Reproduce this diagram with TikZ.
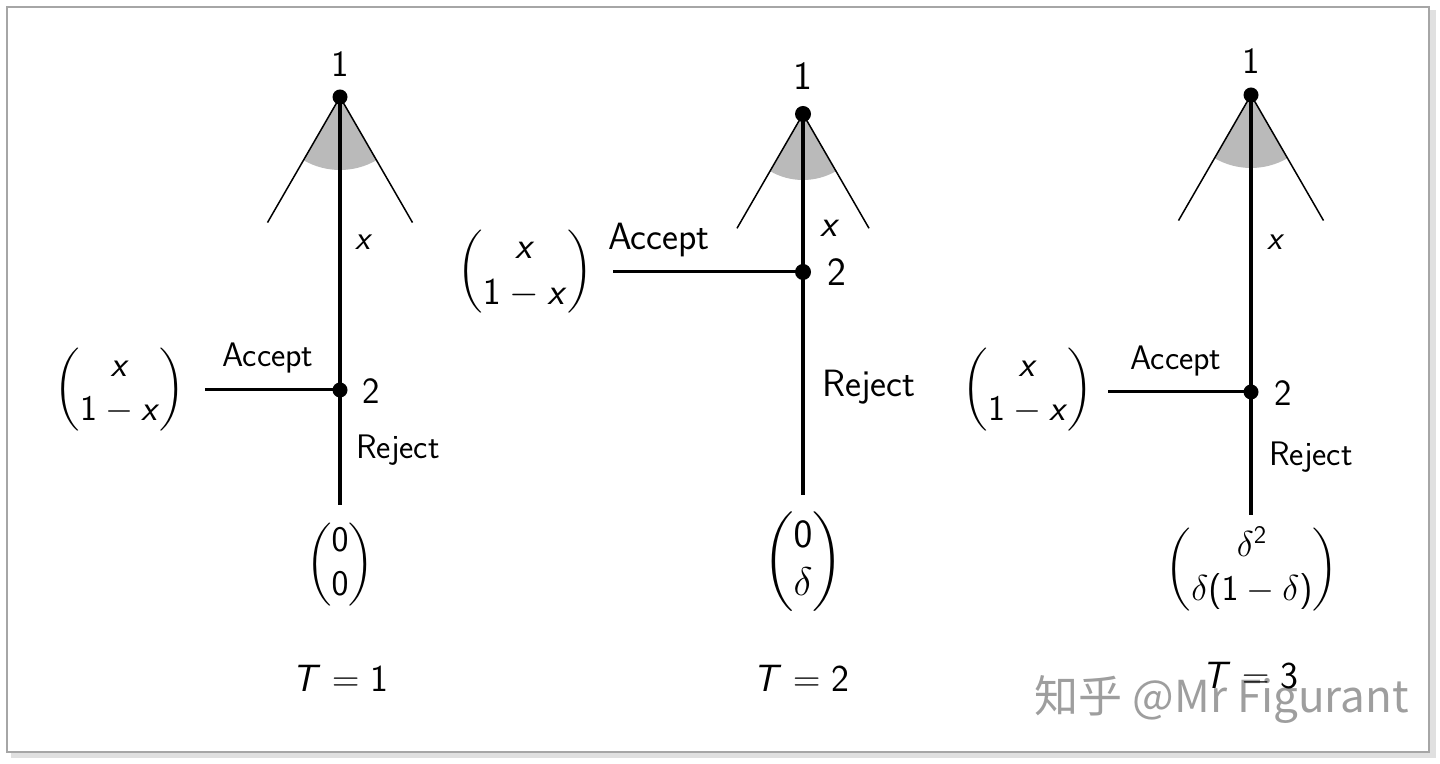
\RequirePackage{fix-cm}
\documentclass[tikz,border=0pt]{standalone}
\usepackage{amsmath}
\usepackage[no-math]{fontspec}
\newfontfamily\cjkfont{Noto Sans CJK SC}
\SetSymbolFont{operators}{normal}{OT1}{cmss}{m}{n}
\DeclareSymbolFont{sfletters}{OT1}{cmss}{m}{sl}
\DeclareMathSymbol{x}{\mathalpha}{sfletters}{`x}
\DeclareMathSymbol{T}{\mathalpha}{sfletters}{`T}
\usetikzlibrary{positioning,backgrounds}

\begin{document}
\begin{tikzpicture}[x=0.5pt, y=0.5pt,
    dot/.style={circle, fill=black, inner sep=0pt, minimum size=7.5pt},
    bigdot/.style={dot, minimum size=8pt},
    lbl/.style={inner sep=0pt, font=\fontsize{17}{21}\selectfont\sffamily},
    vec/.style={inner sep=0pt, font=\fontsize{18}{22}\selectfont\sffamily},
    biglbl/.style={inner sep=0pt, font=\fontsize{19}{23}\selectfont\sffamily},
    numlbl/.style={inner sep=0pt, font=\fontsize{18.5}{22}\selectfont\sffamily},
    bignum/.style={inner sep=0pt, font=\fontsize{20}{24}\selectfont\sffamily},
    stem/.style={line width=1.9pt},
    branch/.style={line width=0.75pt},
    offer/.style={line width=1.5pt},
    wedge/.style={fill=black!27}
]
    \useasboundingbox (0,0) rectangle (1440,764);
    \draw[black!12, line width=3pt] (11,9) -- (1433,9) -- (1433,754);
    \draw[black!35, line width=1pt] (7,12) rectangle (1429,757);

    % T = 1
    \node[dot] (a1) at (340,667) {};
    \node[dot] (a2) at (340,374) {};
    \path (a1.center) ++(240:72.5pt) coordinate (a1l);
    \path (a1.center) ++(300:72.5pt) coordinate (a1r);
    \coordinate (a1end) at (340,259);
    \coordinate (a1acc) at (205,374);
    \begin{scope}[on background layer]
        \fill[wedge] (a1.center) -- ++(240:36.5pt) arc[start angle=240, end angle=300, radius=36.5pt] -- cycle;
    \end{scope}
    \draw[branch] (a1.center) -- (a1l);
    \draw[branch] (a1.center) -- (a1r);
    \draw[stem] (a1.center) -- (a1end);
    \draw[offer] (a1acc) -- (a2.center);
    \node[numlbl] (a1num) at (340,700) {1};
    \node[lbl] (a1x) at (364,522) {$x$};
    \node[numlbl] (a2num) at (371,373) {2};
    \node[lbl] (a1acctxt) at (268,406) {Accept};
    \node[lbl] (a1rej) at (398,314) {Reject};
    \node[vec] (a1vec) at (120,374) {$\begin{pmatrix} x\\ 1-x \end{pmatrix}$};
    \node[vec] (a1pay) at (340,199) {$\begin{pmatrix} 0\\ 0 \end{pmatrix}$};
    \node[biglbl] (t1) at (340,86) {$T=1$};

    % T = 2
    \node[bigdot] (b1) at (803,650) {};
    \node[bigdot] (b2) at (803,492) {};
    \path (b1.center) ++(240:66pt) coordinate (b1l);
    \path (b1.center) ++(300:66pt) coordinate (b1r);
    \coordinate (b1end) at (803,269);
    \coordinate (b1acc) at (613,492);
    \begin{scope}[on background layer]
        \fill[wedge] (b1.center) -- ++(240:33pt) arc[start angle=240, end angle=300, radius=33pt] -- cycle;
    \end{scope}
    \draw[branch] (b1.center) -- (b1l);
    \draw[branch] (b1.center) -- (b1r);
    \draw[stem] (b1.center) -- (b1end);
    \draw[offer] (b1acc) -- (b2.center);
    \node[bignum] (b1num) at (803,688) {1};
    \node[biglbl] (b1x) at (830,536) {$x$};
    \node[bignum] (b2num) at (837,492) {2};
    \node[biglbl] (b1acctxt) at (659,524) {Accept};
    \node[biglbl] (b1rej) at (869,377) {Reject};
    \node[biglbl] (b1vec) at (525,492) {$\begin{pmatrix} x\\ 1-x \end{pmatrix}$};
    \node[bignum] (b1pay) at (803,202) {$\begin{pmatrix} 0\\ \delta \end{pmatrix}$};
    \node[biglbl] (t2) at (801,86) {$T=2$};

    % T = 3
    \node[dot] (c1) at (1251,669) {};
    \node[dot] (c2) at (1251,372) {};
    \path (c1.center) ++(240:72.5pt) coordinate (c1l);
    \path (c1.center) ++(300:72.5pt) coordinate (c1r);
    \coordinate (c1end) at (1251,249);
    \coordinate (c1acc) at (1108,372);
    \begin{scope}[on background layer]
        \fill[wedge] (c1.center) -- ++(240:36.5pt) arc[start angle=240, end angle=300, radius=36.5pt] -- cycle;
    \end{scope}
    \draw[branch] (c1.center) -- (c1l);
    \draw[branch] (c1.center) -- (c1r);
    \draw[stem] (c1.center) -- (c1end);
    \draw[offer] (c1acc) -- (c2.center);
    \node[numlbl] (c1num) at (1251,703) {1};
    \node[lbl] (c1x) at (1276,522) {$x$};
    \node[numlbl] (c2num) at (1283,371) {2};
    \node[lbl] (c1acctxt) at (1176,403) {Accept};
    \node[lbl] (c1rej) at (1311,307) {Reject};
    \node[vec] (c1vec) at (1028,374) {$\begin{pmatrix} x\\ 1-x \end{pmatrix}$};
    \node[vec] (c1pay) at (1252,194) {$\begin{pmatrix} \delta^2\\ \delta(1-\delta) \end{pmatrix}$};

    \node[font=\cjkfont\fontsize{22}{26}\selectfont, text=black!38, inner sep=0pt] (mark) at (1222,64) {知乎 @Mr Figurant};
    \node[biglbl] (t3) at (1250,89) {$T=3$};
\end{tikzpicture}
\end{document}
